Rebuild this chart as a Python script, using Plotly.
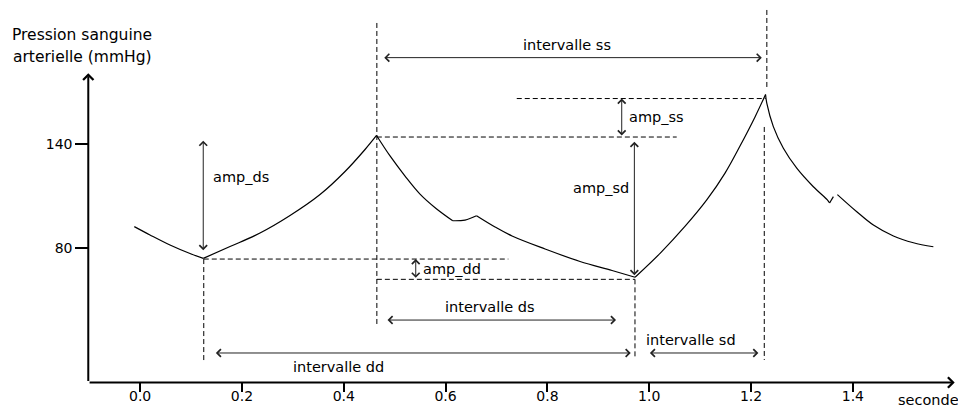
import plotly.graph_objects as go

# ---- data: arterial pressure trace (seconds, mmHg); None separates the smooth pieces
time_s = [-0.0114, 0.0194, 0.0587, 0.0980, 0.1241, None,
          0.1241, 0.1766, 0.2355, 0.2945, 0.3534, 0.4025, 0.4418, 0.4644, None,
          0.4644, 0.4909, 0.5204, 0.5498, 0.5813, 0.6141, None,
          0.6141, 0.6382, 0.6608, None,
          0.6608, 0.6972, 0.7306, 0.7954, 0.8641, 0.9270, 0.9722, None,
          0.9722, 1.0213, 1.0710, 1.1130, 1.1489, 1.1783, 1.2078, 1.2285, None,
          1.2285, 1.2309, 1.2438, 1.2635, 1.2898, 1.3224, 1.3499, 1.3543, None,
          1.3543, 1.3617, None,
          1.3696, 1.4077, 1.4403, 1.4796, 1.5189, 1.5581]
pressure = [92.5, 87.7, 81.9, 77.0, 74.2, None,
            74.2, 81.0, 88.8, 98.9, 111.0, 124.3, 137.0, 145.1, None,
            145.1, 133.3, 121.7, 111.3, 103.0, 95.9, None,
            95.9, 96.3, 98.8, None,
            98.8, 92.3, 87.1, 79.6, 72.4, 67.2, 63.3, None,
            63.3, 77.1, 92.9, 107.9, 123.4, 139.0, 155.8, 168.7, None,
            168.7, 163.7, 150.2, 137.7, 126.2, 115.5, 107.9, 106.1, None,
            106.1, 109.8, None,
            111.0, 101.1, 93.4, 87.1, 83.2, 80.9]

# key events: diastolic minima and systolic maxima
dia_t = [0.125, 0.972]
dia_p = [73.8, 62.1]
sys_t = [0.465, 1.229]
sys_p = [144.2, 166.4]

x_ticks = [0.0, 0.2, 0.4, 0.6, 0.8, 1.0, 1.2, 1.4]
x_tick_labels = ["0.0", "0.2", "0.4", "0.6", "0.8", "1.0", "1.2", "1.4"]
y_ticks = [80, 140]
y_tick_labels = ["80", "140"]

FONT = "DejaVu Sans"
FS = 14.5
INK = "#222222"

fig = go.Figure()

# pressure curve
fig.add_trace(go.Scatter(x=time_s, y=pressure, mode="lines",
                         line=dict(color="black", width=1.2, shape="spline", smoothing=1),
                         connectgaps=False, hoverinfo="skip", showlegend=False))

# dashed construction lines built from the key events
dx, dy = [], []
def seg(x0, y0, x1, y1):
    dx.extend([x0, x1, None]); dy.extend([y0, y1, None])

seg(dia_t[0], dia_p[0], dia_t[0], 13.8)            # vertical at 1st diastole
seg(dia_t[0], dia_p[0], 0.7233, dia_p[0])          # horizontal 1st diastole
seg(sys_t[0], 210.0, sys_t[0], 35.2)               # vertical at 1st systole
seg(sys_t[0], sys_p[0], 1.054, sys_p[0])           # horizontal 1st systole
seg(sys_t[0], dia_p[1], dia_t[1], dia_p[1])        # horizontal 2nd diastole
seg(dia_t[1], dia_p[1], dia_t[1], 16.2)            # vertical at 2nd diastole
seg(0.7398, sys_p[1], sys_t[1], sys_p[1])          # horizontal 2nd systole
seg(sys_t[1] + 0.002, 217.5, sys_t[1] + 0.002, 173.0)  # vertical above 2nd systole
seg(sys_t[1] - 0.003, 150.0, sys_t[1] - 0.003, 15.6)   # vertical below 2nd systole
fig.add_trace(go.Scatter(x=dx, y=dy, mode="lines",
                         line=dict(color="black", width=1, dash="5px,3px"),
                         hoverinfo="skip", showlegend=False))

annotations = []

def darrow(x0, y0, x1, y1):
    annotations.append(dict(x=x1, y=y1, ax=x0, ay=y0, xref="x", yref="y",
                            axref="x", ayref="y", text="", showarrow=True,
                            arrowhead=4, startarrowhead=4, arrowside="end+start",
                            arrowsize=1.5, startarrowsize=1.5, arrowwidth=1,
                            arrowcolor=INK, standoff=0, startstandoff=0))

def label(x, y, txt, anchor="center", size=FS):
    annotations.append(dict(x=x, y=y, xref="x", yref="y", text=txt, showarrow=False,
                            xanchor=anchor, yanchor="middle",
                            font=dict(family=FONT, size=size, color="black")))

# interval arrows
darrow(0.4766, 190.0, 1.2211, 190.0); label(0.8386, 197.3, "intervalle ss")
darrow(0.4830, 38.6, 0.9348, 38.6);   label(0.6873, 46.3, "intervalle ds")
darrow(0.1458, 19.6, 0.9637, 19.6);   label(0.3888, 11.7, "intervalle dd")
darrow(0.9983, 19.6, 1.2144, 19.6);   label(0.9900, 27.1, "intervalle sd", "left")
# amplitude arrows
darrow(dia_t[0] - 0.001, 78.0, dia_t[0] - 0.001, 142.1); label(0.1390, 121.1, "amp_ds", "left")
darrow(0.946, sys_p[0], 0.946, sys_p[1]);                label(0.9560, 155.75, "amp_ss", "left")
darrow(0.9708, 63.6, 0.9708, 141.5);                     label(0.9640, 114.8, "amp_sd", "right")
darrow(0.5414, dia_p[1], 0.5414, dia_p[0]);              label(0.5520, 68.1, "amp_dd", "left")

# axis lines with arrow heads
for (x0, y0, x1, y1) in [(-0.1022, 2.57, 1.600, 2.57), (-0.1018, 2.57, -0.1018, 181.0)]:
    annotations.append(dict(x=x1, y=y1, ax=x0, ay=y0, xref="x", yref="y",
                            axref="x", ayref="y", text="", showarrow=True,
                            arrowhead=4, arrowsize=1, arrowwidth=2,
                            arrowcolor="black", standoff=0))

# axis titles
label(-0.1141, 203.1, "Pression sanguine", size=15.5)
label(-0.1141, 190.4, "arterielle (mmHg)", size=15.5)
label(1.4840, -7.5, "seconde", "left")

fig.update_layout(
    width=958, height=406, margin=dict(l=0, r=0, t=0, b=0),
    paper_bgcolor="white", plot_bgcolor="white", showlegend=False,
    annotations=annotations,
    xaxis=dict(range=[-0.2752, 1.6065], domain=[0, 1], anchor="free", position=0.0579,
               showgrid=False, zeroline=False, showline=False,
               ticks="outside", ticklen=9, tickwidth=2, tickcolor="black",
               ticklabelstandoff=-8,
               tickvals=x_ticks, ticktext=x_tick_labels,
               tickfont=dict(family=FONT, size=14, color="black"),
               fixedrange=True, automargin=False),
    yaxis=dict(range=[-10.98, 223.25], domain=[0, 1], anchor="free", position=0.0922,
               showgrid=False, zeroline=False, showline=False,
               ticks="outside", ticklen=13, tickwidth=2, tickcolor="black",
               tickvals=y_ticks, ticktext=y_tick_labels,
               tickfont=dict(family=FONT, size=14, color="black"),
               fixedrange=True, automargin=False),
)

fig.write_html("out.html", config={"displayModeBar": False},
               post_script="document.body.style.margin='0px';document.body.style.overflow='hidden';")
